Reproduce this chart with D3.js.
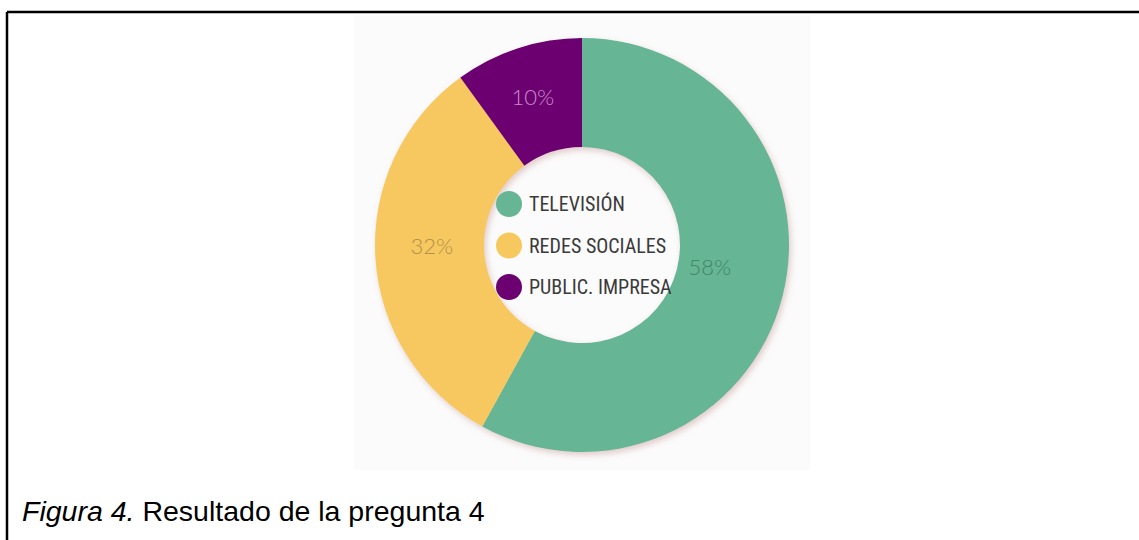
<!DOCTYPE html>
<html><head><meta charset="utf-8">
<script src="https://cdn.jsdelivr.net/npm/d3@7"></script>
<style>html,body{margin:0;padding:0;background:#fff;}svg{display:block;}</style>
</head><body>
<svg id="c" width="1139" height="540"></svg>
<script>
const categories = ["TELEVISIÓN", "REDES SOCIALES", "PUBLIC. IMPRESA"];
const values = [58, 32, 10];
const labels = ["58%", "32%", "10%"];
const colors = ["#66b594", "#f7c85e", "#6c0071"];
const labelColors = ["#3f8766", "#b3914a", "#c98ccb"];
const caption = ["Figura 4.", " Resultado de la pregunta 4"];

const svg = d3.select("#c");
// frame
svg.append("line").attr("x1",7).attr("x2",1139).attr("y1",12).attr("y2",12).attr("stroke","#000").attr("stroke-width",2.5);
svg.append("line").attr("x1",7).attr("x2",7).attr("y1",12).attr("y2",540).attr("stroke","#000").attr("stroke-width",2.5);
// image background
svg.append("rect").attr("x",354).attr("y",15).attr("width",456).attr("height",455).attr("fill","#fbfbfb");

const defs = svg.append("defs");
const f = defs.append("filter").attr("id","sh").attr("x","-20%").attr("y","-20%").attr("width","140%").attr("height","140%");
f.append("feDropShadow").attr("dx",2).attr("dy",3).attr("stdDeviation",3).attr("flood-color","#b07070").attr("flood-opacity",0.35);

const cx = 582, cy = 245, R = 207, r = 98;
const pie = d3.pie().sort(null).value(d => d);
const arcs = pie(values);
const arc = d3.arc().innerRadius(r).outerRadius(R);
const g = svg.append("g").attr("transform",`translate(${cx},${cy})`);
g.append("g").attr("filter","url(#sh)").selectAll("path").data(arcs).join("path")
  .attr("d",arc).attr("fill",(d,i)=>colors[i]);

const labelArc = d3.arc().innerRadius((R+r)/2).outerRadius((R+r)/2);
g.selectAll("text.pct").data(arcs).join("text").attr("class","pct")
  .attr("transform",(d,i)=>{const p=labelArc.centroid(d); return `translate(${p[0]+[ -20, 2, -2][i]},${p[1]+[ -16, -8, -3][i]})`;})
  .attr("text-anchor","middle").attr("dy","0.35em")
  .attr("font-family","Lato, 'Liberation Sans', sans-serif").attr("font-weight",300)
  .attr("font-size",22).attr("fill",(d,i)=>labelColors[i])
  .text((d,i)=>labels[i]);

// legend
const ly = d3.scalePoint().domain(categories).range([204, 287]);
const lg = svg.append("g");
lg.selectAll("circle").data(categories).join("circle")
  .attr("cx",509).attr("cy",d=>ly(d)).attr("r",13).attr("fill",(d,i)=>colors[i]);
lg.selectAll("text").data(categories).join("text")
  .attr("x",529).attr("y",d=>ly(d)).attr("dy","0.36em")
  .attr("font-family","'Roboto Condensed', 'Liberation Sans Narrow', sans-serif")
  .attr("font-size",20).attr("fill","#3a3a3a")
  .text(d=>d);

// caption
const cap = svg.append("text").attr("x",22).attr("y",521)
  .attr("font-family","'Liberation Sans', Arial, sans-serif").attr("font-size",28.5).attr("fill","#000");
cap.append("tspan").attr("font-style","italic").text(caption[0]);
cap.append("tspan").text(caption[1]);
</script>
</body></html>
